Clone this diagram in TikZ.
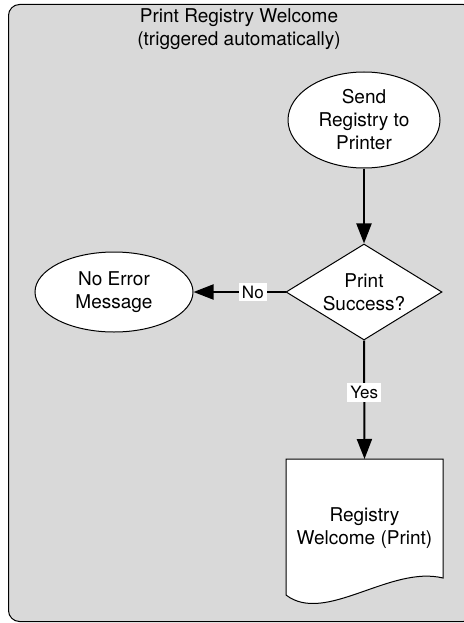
\documentclass[tikz,border=0pt]{standalone}
\usepackage{fontspec}
\setmainfont{TeX Gyre Heros}
\usetikzlibrary{shapes.geometric,arrows.meta}
\definecolor{panelgray}{RGB}{217,217,217}
\begin{document}
\begin{tikzpicture}[x=1pt,y=-1pt,
  font=\fontsize{19}{23}\selectfont,
  shapebox/.style={draw=black, fill=white, line width=1pt, align=center, inner sep=0pt},
  flow/.style={line width=2pt, -{Triangle[length=20pt,width=15pt]}},
  lbl/.style={fill=white, font=\fontsize{17}{20}\selectfont, inner sep=3pt}]
\useasboundingbox (0,0) rectangle (463,623);
\node (panel) [draw=black, fill=panelgray, rounded corners=11pt, line width=1pt,
  minimum width=466pt, minimum height=617pt, anchor=north west, inner sep=0pt] at (8,4) {};
\node (title) [align=center] at (239,29) {Print Registry Welcome\\(triggered automatically)};
\node (send) [shapebox, ellipse, minimum width=152pt, minimum height=96pt] at (364,120) {Send\\Registry to\\Printer};
\node (dec) [shapebox, diamond, shape aspect=1.6, minimum width=156pt, minimum height=96pt] at (364,292) {Print\\Success?};
\node (noerr) [shapebox, ellipse, minimum width=158pt, minimum height=80pt] at (114,292) {No Error\\Message};
\draw[line width=1pt, fill=white] (286,459) -- (443,459) -- (443,578)
  .. controls (390,565) and (325,625) .. (286,595) -- cycle;
\node (doc) [minimum width=157pt, minimum height=138pt, inner sep=0pt, anchor=north, align=center] at (364.5,459) {Registry\\Welcome (Print)};
\draw[flow] (send) -- (dec);
\draw[flow] (dec) -- (noerr) node[lbl, pos=0.355] {No};
\draw[flow] (dec.south) -- (doc.north) node[lbl, pos=0.44] {Yes};
\end{tikzpicture}
\end{document}
